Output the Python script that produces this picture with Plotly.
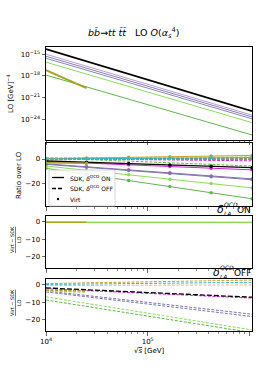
import plotly.graph_objects as go
from plotly.subplots import make_subplots

# ---------------- data ----------------
sqrt_s = [1e4, 2.5e4, 6.5e4, 1.65e5, 4.2e5, 1.06e6]
sqrt_s_short = [1e4, 2.5e4]

# LO cross sections [GeV^-4]
lo_black = [5.0e-15, 1.0e-16, 1.8e-18, 3.4e-20, 6.3e-22, 1.26e-23]
lo_lavender = [1.0e-15, 2.2e-17, 4.1e-19, 8.3e-21, 1.7e-22, 3.5e-24]
lo_purple = [5.2e-16, 1.15e-17, 2.2e-19, 4.6e-21, 9.5e-23, 2.0e-24]
lo_slate = [2.75e-16, 6.2e-18, 1.2e-19, 2.5e-21, 5.2e-23, 1.1e-24]
lo_lgreen = [7.9e-17, 1.8e-18, 3.4e-20, 7.1e-22, 1.4e-23, 3.2e-25]
lo_dgreen = [1.26e-18, 2.95e-20, 5.9e-22, 1.3e-23, 2.7e-25, 6.3e-27]
lo_olive = [6.3e-18, 2.0e-20]

# Ratio over LO : Virt (= SDK with delta ON)
ratio_black = [-1.5, -2.6, -3.8, -4.9, -6.1, -7.2]
ratio_magenta = [-2.0, -3.4, -4.8, -6.2, -7.6, -9.0]
ratio_purple = [-4.0, -6.5, -9.0, -11.5, -14.0, -16.5]
ratio_slate = [-4.4, -6.9, -9.5, -12.1, -14.7, -17.2]
ratio_lgreen = [-5.8, -9.4, -13.1, -16.7, -20.4, -24.0]
ratio_dgreen = [-7.7, -12.7, -17.8, -22.9, -28.0, -33.0]
ratio_gold = [0.3, 0.8, 1.4, 1.9, 2.5, 3.0]
ratio_cyan = [0.0, 0.2, 0.5, 0.7, 1.0, 1.2]
ratio_olive = [-3.0, -3.6]

# Ratio over LO : SDK with delta OFF
off_black = [0.2, 0.2, 0.1, 0.1, 0.0, -0.2]
off_magenta = [0.2, 0.0, -0.4, -0.7, -1.1, -1.5]
off_purple = [-0.6, -0.5, -0.3, -0.1, 0.0, 0.2]
off_slate = [-0.4, -0.1, 0.1, 0.3, 0.5, 0.8]
off_lgreen = [1.0, 1.1, 1.3, 1.5, 1.5, 1.7]
off_dgreen = [0.9, -0.4, -1.7, -3.1, -4.5, -5.8]
off_peach = [-0.3, -0.2, -0.2, -0.1, -0.1, 0.0]
off_gold = [-0.5, -0.4, -0.2, -0.1, 0.1, 0.2]
off_cyan = [-0.3, -0.3, -0.3, -0.3, -0.3, -0.3]

# (Virt - SDK)/LO, delta ON
don_all = [-0.3, -0.3, -0.3, -0.3, -0.3, -0.3]
don_olive = [-0.2, -0.2]

# (Virt - SDK)/LO, delta OFF
doff_gold = [0.8, 1.2, 1.6, 2.0, 2.4, 2.8]
doff_cyan = [0.3, 0.5, 0.8, 1.0, 1.3, 1.5]
doff_peach = [-0.3, -0.2, -0.2, -0.1, -0.1, 0.0]
doff_black = [-1.7, -2.8, -3.9, -4.9, -6.0, -7.0]
doff_magenta = [-2.2, -3.2, -4.3, -5.4, -6.5, -7.5]
doff_purple = [-3.4, -6.0, -8.7, -11.4, -14.0, -16.7]
doff_slate = [-4.0, -6.8, -9.6, -12.4, -15.2, -18.0]
doff_lgreen = [-6.8, -10.5, -14.4, -18.2, -21.9, -25.7]
doff_dgreen = [-8.6, -12.3, -16.1, -19.8, -23.5, -27.2]
doff_olive = [-3.0, -3.5]
doff_ygreen = [-3.6, -4.1]

C = dict(black="#000000", magenta="#d21fd2", lavender="#a994d6", purple="#8c6bb1",
         slate="#6f80aa", gold="#c9a227", cyan="#2bbbd1", peach="#f4b183",
         lgreen="#8edb5a", dgreen="#5cb848", olive="#a4a61c", ygreen="#bcd84a")

FONT = "DejaVu Sans"
W, H = 266, 372
L, R, T, B = 46, 14, 47, 41
PH = H - T - B


def ydom(top, bot):
    return [(H - B - bot) / PH, (H - B - top) / PH]


fig = make_subplots(rows=4, cols=1, shared_xaxes=False)

# ---- panel 1: LO ----
for name, ys, w in [("lavender", lo_lavender, 0.9), ("purple", lo_purple, 0.9), ("slate", lo_slate, 0.9),
                    ("lgreen", lo_lgreen, 1), ("dgreen", lo_dgreen, 1), ("black", lo_black, 1.8)]:
    fig.add_trace(go.Scatter(x=sqrt_s, y=ys, mode="lines", line=dict(color=C[name], width=w),
                             showlegend=False), row=1, col=1)
fig.add_trace(go.Scatter(x=sqrt_s_short, y=lo_olive, mode="lines",
                         line=dict(color=C["olive"], width=2), showlegend=False), row=1, col=1)

# ---- panel 2: ratio over LO ----
solid_series = [("dgreen", ratio_dgreen), ("lgreen", ratio_lgreen), ("slate", ratio_slate),
                ("purple", ratio_purple), ("magenta", ratio_magenta), ("black", ratio_black),
                ("gold", ratio_gold), ("cyan", ratio_cyan)]
dash_series = [("dgreen", off_dgreen), ("lgreen", off_lgreen), ("slate", off_slate),
               ("purple", off_purple), ("peach", off_peach), ("magenta", off_magenta),
               ("black", off_black), ("gold", off_gold), ("cyan", off_cyan)]
for name, ys in dash_series:
    fig.add_trace(go.Scatter(x=sqrt_s, y=ys, mode="lines",
                             line=dict(color=C[name], width=1, dash="3px,1.5px"),
                             showlegend=False), row=2, col=1)
for name, ys in solid_series:
    fig.add_trace(go.Scatter(x=sqrt_s, y=ys, mode="lines+markers",
                             line=dict(color=C[name], width=1.3 if name == "black" else 1),
                             marker=dict(color=C[name], size=3.5),
                             showlegend=False), row=2, col=1)
fig.add_trace(go.Scatter(x=sqrt_s_short, y=ratio_olive, mode="lines+markers",
                         line=dict(color=C["olive"], width=1.5), marker=dict(size=3.5),
                         showlegend=False), row=2, col=1)

# ---- panel 3: delta ON ----
for name in ["black", "magenta", "purple", "slate", "gold", "cyan", "dgreen", "lgreen"]:
    fig.add_trace(go.Scatter(x=sqrt_s, y=don_all, mode="lines",
                             line=dict(color=C[name], width=1), showlegend=False), row=3, col=1)
fig.add_trace(go.Scatter(x=sqrt_s_short, y=don_olive, mode="lines",
                         line=dict(color=C["olive"], width=1.5), showlegend=False), row=3, col=1)

# ---- panel 4: delta OFF ----
for name, ys in [("dgreen", doff_dgreen), ("lgreen", doff_lgreen), ("slate", doff_slate),
                 ("purple", doff_purple), ("magenta", doff_magenta), ("peach", doff_peach),
                 ("gold", doff_gold), ("cyan", doff_cyan)]:
    fig.add_trace(go.Scatter(x=sqrt_s, y=ys, mode="lines",
                             line=dict(color=C[name], width=1, dash="3px,1.5px"),
                             showlegend=False), row=4, col=1)
fig.add_trace(go.Scatter(x=sqrt_s, y=doff_black, mode="lines",
                         line=dict(color=C["black"], width=1.3, dash="5px,2px"),
                         showlegend=False), row=4, col=1)
for name, ys in [("ygreen", doff_ygreen), ("olive", doff_olive)]:
    fig.add_trace(go.Scatter(x=sqrt_s_short, y=ys, mode="lines",
                             line=dict(color=C[name], width=1.3, dash="3px,1.5px"),
                             showlegend=False), row=4, col=1)

# ---- axes ----
minor_vals = [m * 10 ** e for e in (4, 5) for m in range(2, 10)]
xcommon = dict(type="log", range=[4, 6.025], showline=True, mirror=True, linecolor="black",
               linewidth=1, ticks="outside", ticklen=3.5, tickwidth=0.8, showgrid=False,
               zeroline=False, tickvals=[1e4, 1e5, 1e6],
               minor=dict(tickvals=minor_vals, ticks="outside", ticklen=2, tickwidth=0.6,
                          showgrid=False),
               tickfont=dict(family=FONT, size=7, color="black"))
doms = [ydom(47, 140), ydom(143, 206), ydom(216, 268), ydom(279, 331)]
for i in range(1, 5):
    xa = dict(xcommon)
    if i < 4:
        xa["showticklabels"] = False
    else:
        xa["ticktext"] = ["10<sup>4</sup>", "10<sup>5</sup>", ""]
    fig.update_xaxes(**xa, row=i, col=1)
    fig.update_yaxes(domain=doms[i - 1], row=i, col=1)

ycommon = dict(showline=True, mirror=True, linecolor="black", linewidth=1, ticks="outside",
               ticklen=3.5, tickwidth=0.8, showgrid=False, zeroline=False,
               tickfont=dict(family=FONT, size=7, color="black"))
fig.update_yaxes(**ycommon, type="log", range=[-26.9, -14.0],
                 tickvals=[1e-15, 1e-18, 1e-21, 1e-24],
                 ticktext=["10<sup>−15</sup>", "10<sup>−18</sup>", "10<sup>−21</sup>", "10<sup>−24</sup>"],
                 row=1, col=1)
fig.update_yaxes(**ycommon, range=[-39, 13.3], tickvals=[0, -20], ticktext=["0", "−20"],
                 row=2, col=1)
for r in (3, 4):
    fig.update_yaxes(**ycommon, range=[-26.3, 3.4], tickvals=[0, -10, -20],
                     ticktext=["0", "−10", "−20"], row=r, col=1)
fig.update_xaxes(domain=[0, 1])

# ---- annotations / text ----
def px2x(px):
    return (px - L) / (W - L - R)


def py2y(py):
    return (H - B - py) / PH


def note(text, px, py, size, xanchor="center", angle=0):
    return dict(text=text, x=px2x(px), y=py2y(py), xref="paper", yref="paper",
                showarrow=False, xanchor=xanchor, yanchor="middle", textangle=angle,
                font=dict(family=FONT, size=size, color="black"))


ann = []
ann.append(note("<i>bb̄</i>→<i>tt t̄t̄</i>   LO <i>O</i>(<i>α</i><sub><i>s</i></sub><sup>4</sup>)",
                133, 33, 9.5))
ann.append(note("LO [GeV]<sup>−4</sup>", 10, 94, 7, angle=-90))
ann.append(note("Ratio over LO", 19, 175, 7, angle=-90))
for yc in (240, 303):
    ann.append(note("<u>Virt − SDK</u><br>LO", 15, yc, 5, angle=-90))
ann.append(note("√<span style='text-decoration:overline'><i>s</i></span> [GeV]", 149, 351, 7))
# delta labels
for base_y, word in ((209, "ON"), (272, "OFF")):
    x0 = 215 if word == "ON" else 211
    ann.append(note("<i>δ</i>", x0, base_y, 11, xanchor="left"))
    ann.append(note("<i>QCD</i>", x0 + 6.5, base_y - 4.5, 6, xanchor="left"))
    ann.append(note("<i>LA</i>", x0 + 6.5, base_y + 4, 6, xanchor="left"))
    ann.append(note(word, 253, base_y + 0.5, 9, xanchor="right"))

# legend (drawn manually inside ratio panel)
legend_items = ["SDK, <i>δ</i><sup>QCD</sup> ON", "SDK, <i>δ</i><sup>QCD</sup> OFF", "Virt"]
shapes = [dict(type="rect", xref="paper", yref="paper", x0=px2x(49), x1=px2x(115),
               y0=py2y(206), y1=py2y(170), fillcolor="rgba(255,255,255,0.85)",
               line=dict(color="#cccccc", width=0.8), layer="above")]
rows_y = [177.5, 188.5, 199]
shapes.append(dict(type="line", xref="paper", yref="paper", x0=px2x(52), x1=px2x(64),
                   y0=py2y(rows_y[0]), y1=py2y(rows_y[0]), line=dict(color="black", width=1.3),
                   layer="above"))
shapes.append(dict(type="line", xref="paper", yref="paper", x0=px2x(52), x1=px2x(64),
                   y0=py2y(rows_y[1]), y1=py2y(rows_y[1]),
                   line=dict(color="black", width=1.3, dash="4px,2px"), layer="above"))
shapes.append(dict(type="circle", xref="paper", yref="paper", x0=px2x(56.8), x1=px2x(59.2),
                   y0=py2y(rows_y[2] + 1.2), y1=py2y(rows_y[2] - 1.2), fillcolor="black",
                   line=dict(color="black", width=0), layer="above"))
for txt, yy in zip(legend_items, rows_y):
    ann.append(note(txt, 68, yy, 6, xanchor="left"))

fig.update_layout(width=W, height=H, margin=dict(l=L, r=R, t=T, b=B),
                  paper_bgcolor="white", plot_bgcolor="white", annotations=ann, shapes=shapes,
                  showlegend=False)
fig.write_html("out.html", config={"displayModeBar": False, "staticPlot": True},
               post_script="document.body.style.margin='0px';document.body.style.overflow='hidden';")
